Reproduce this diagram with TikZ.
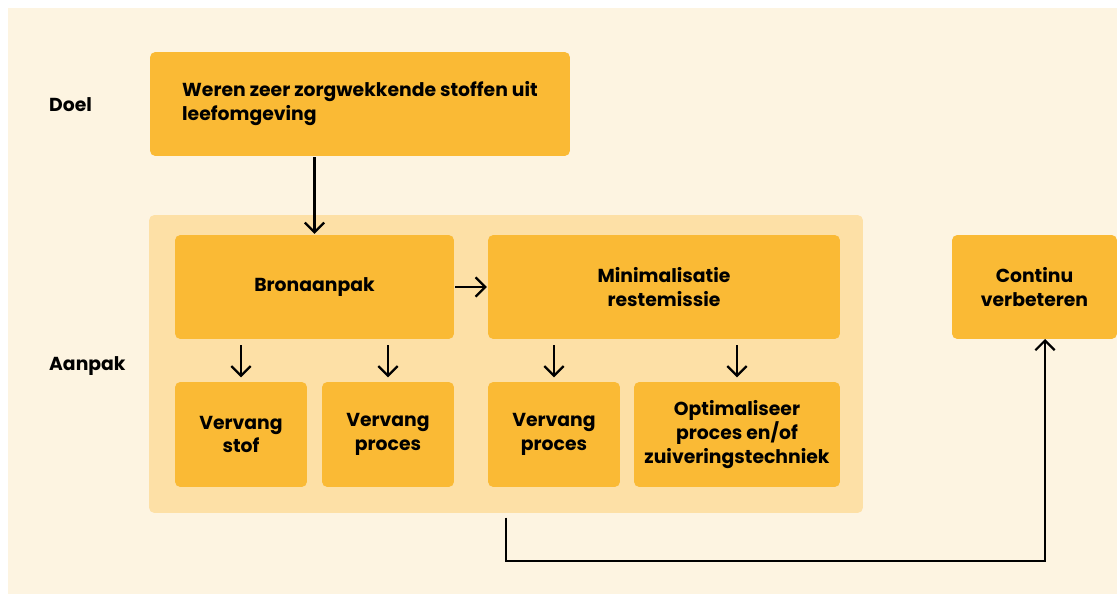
\documentclass[tikz,border=0pt]{standalone}
\usepackage{fontspec}
\setmainfont{Poppins}
\usetikzlibrary{arrows.meta}
\definecolor{boxorange}{HTML}{FABA35}
\definecolor{groupbg}{HTML}{FDE0A6}
\definecolor{pagebg}{HTML}{FDF4E1}
\begin{document}
\begin{tikzpicture}[x=0.02cm, y=-0.02cm,
		blk/.style={rectangle, fill=boxorange, rounded corners=3pt, inner sep=0pt, minimum height=2.08cm, align=center, font=\bfseries\fontsize{10.7}{13.6}\selectfont},
		grp/.style={rectangle, fill=groupbg, rounded corners=3pt, inner sep=0pt},
		rowlabel/.style={anchor=west, inner sep=0pt, font=\bfseries\fontsize{10.7}{13.6}\selectfont},
		>={Straight Barb[length=5.5pt,width=11pt]},
		line width=1.3pt
		]
		\useasboundingbox (0,0) rectangle (1117,594);
		\fill[white] (0,0) rectangle (1117,594);
		\fill[pagebg] (8,8) rectangle (1117,594);
		
		\node[grp, minimum width=14.28cm, minimum height=5.96cm] (aanpak) at (506, 364) {};
		
		\node[rowlabel] (doel) at (48, 105) {Doel};
		\node[rowlabel] (aanpaklabel) at (48, 366) {Aanpak};
		
		\node[blk, minimum width=8.4cm, align=left] (goal) at (360, 104) {Weren zeer zorgwekkende stoffen uit\\leefomgeving};
		\node[blk, minimum width=5.58cm] (bron) at (314.5, 287) {Bronaanpak};
		\node[blk, minimum width=7.04cm] (mini) at (664, 287) {Minimalisatie\\restemissie};
		\node[blk, minimum width=3.3cm] (continu) at (1034.5, 287) {Continu\\verbeteren};
		
		\node[blk, minimum width=2.64cm, minimum height=2.1cm] (stof) at (241, 434.5) {Vervang\\stof};
		\node[blk, minimum width=2.64cm, minimum height=2.1cm] (proces1) at (388, 434.5) {Vervang\\proces};
		\node[blk, minimum width=2.64cm, minimum height=2.1cm] (proces2) at (554, 434.5) {Vervang\\proces};
		\node[blk, minimum width=4.12cm, minimum height=2.1cm] (optim) at (737, 434.5) {Optimaliseer\\proces en/of\\zuiveringstechniek};
		
		\coordinate (cin) at (1045, 339);
		
		\draw[->] (goal.south -| bron.north) to (bron.north);
		\draw[->] (bron.east) to (mini.west);
		\draw[->, shorten <=3pt, shorten >=2pt] (bron.south -| stof.north) to (stof.north);
		\draw[->, shorten <=3pt, shorten >=2pt] (bron.south -| proces1.north) to (proces1.north);
		\draw[->, shorten <=3pt, shorten >=2pt] (mini.south -| proces2.north) to (proces2.north);
		\draw[->, shorten <=3pt, shorten >=2pt] (mini.south -| optim.north) to (optim.north);
		\draw[->, shorten <=2pt] (aanpak.south) -- ++(0, 47) -| (cin);
		
\end{tikzpicture}
\end{document}
